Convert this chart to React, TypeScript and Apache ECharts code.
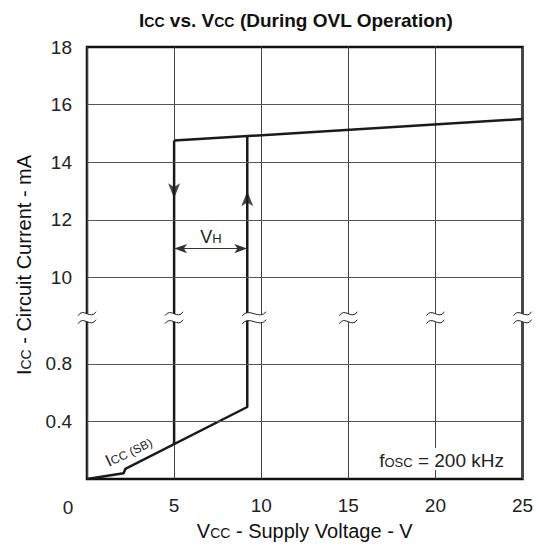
import React, { useEffect, useRef } from "react";
import * as echarts from "echarts";

// ---- data (real units: V and mA) ----
const xTicks = [0, 5, 10, 15, 20, 25];
const yTickValues = [0.4, 0.8, 10, 12, 14, 16, 18];
const hGridValues = [0.4, 0.8, 10, 12, 14, 16];

// standby current then turn-on at ~9.2 V
const riseV = [0, 2.1, 2.2, 9.2, 9.2];
const riseI = [0, 0.04, 0.07, 0.5, 14.91];
// operating current
const opV = [5, 25];
const opI = [14.75, 15.5];
// turn-off at 5 V
const fallV = [5, 5];
const fallI = [14.75, 0.24];

// arrow tips (direction markers on the hysteresis loop)
const arrowDown = [5, 12.75];
const arrowUp = [9.2, 12.99];
const vhLevel = 11;
const vhFrom = 5;
const vhTo = 9.2;

const breakXs = [0, 5, 9.6, 15, 20, 25];

// broken-axis scale: 0..0.8 mA (lower) and 10..18 mA (upper)
const toAxis = (i: number) => (i <= 2 ? i / 0.4 : 3.5 + (i - 10) / 2);
const BREAK_POS = 2.8;
const AXIS_MAX = toAxis(18);

const FONT = "'Liberation Sans', Arial, Helvetica, sans-serif";

const labelFor = (v: number) => {
  for (const t of yTickValues) {
    if (Math.abs(toAxis(t) - v) < 1e-6) return String(t);
  }
  return "";
};

const pts = (xs: number[], ys: number[]) => xs.map((x, k) => [x, toAxis(ys[k])]);

export default function App() {
  const ref = useRef<HTMLDivElement>(null);
  useEffect(() => {
    if (!ref.current) return;
    const chart = echarts.init(ref.current, undefined, { renderer: "svg" });
    const lineColor = "#1a1a1a";
    const option: any = {
      animation: false,
      backgroundColor: "#fff",
      textStyle: { fontFamily: FONT },
      grid: {
        left: 87,
        right: 16.5,
        top: 47,
        bottom: 65,
        show: true,
        borderColor: "#111",
        borderWidth: 2.5,
        backgroundColor: "transparent",
      },
      xAxis: {
        type: "value",
        min: 0,
        max: 25,
        interval: 5,
        axisLine: { show: false },
        axisTick: { show: false },
        splitLine: { show: true, lineStyle: { color: "#444", width: 1 } },
        axisLabel: {
          margin: 17,
          fontSize: 19,
          color: "#222",
          fontFamily: FONT,
          formatter: (v: number) => (v === 0 ? "" : String(v)),
        },
        name: "{a|V}{s|CC}{a| - Supply Voltage - V}",
        nameLocation: "middle",
        nameGap: 40,
        nameTextStyle: {
          rich: {
            a: { fontSize: 20, color: "#111", fontFamily: FONT, verticalAlign: "bottom", lineHeight: 22 },
            s: { fontSize: 14, color: "#111", fontFamily: FONT, verticalAlign: "bottom", lineHeight: 22, padding: [0, 0, 1, 0] },
          },
        },
      },
      yAxis: {
        type: "value",
        min: 0,
        max: AXIS_MAX,
        interval: 0.5,
        axisLine: { show: false },
        axisTick: { show: false },
        splitLine: { show: false },
        axisLabel: {
          margin: 15,
          fontSize: 19,
          color: "#222",
          fontFamily: FONT,
          formatter: (v: number) => labelFor(v),
        },
      },
      series: [
        {
          type: "line",
          data: [],
          silent: true,
          z: 1,
          markLine: {
            silent: true,
            symbol: "none",
            label: { show: false },
            lineStyle: { color: "#555", width: 1, type: "solid" },
            data: hGridValues.map((v) => ({ yAxis: toAxis(v) })),
          },
        },
        {
          type: "line",
          data: pts(riseV, riseI),
          symbol: "none",
          z: 3,
          lineStyle: { color: lineColor, width: 2.5 },
        },
        {
          type: "line",
          data: pts(opV, opI),
          symbol: "none",
          z: 3,
          lineStyle: { color: lineColor, width: 2.5 },
        },
        {
          type: "line",
          data: pts(fallV, fallI),
          symbol: "none",
          z: 3,
          lineStyle: { color: lineColor, width: 2.5 },
          markLine: {
            silent: true,
            symbol: ["arrow", "arrow"],
            symbolSize: [7, 13],
            label: { show: false },
            lineStyle: { color: "#333", width: 1, type: "solid" },
            data: [[{ coord: [vhFrom, toAxis(vhLevel)] }, { coord: [vhTo, toAxis(vhLevel)] }]],
          },
        },
        {
          type: "scatter",
          z: 4,
          symbol: "arrow",
          symbolSize: [9, 15],
          itemStyle: { color: lineColor },
          data: [
            { value: [arrowDown[0], toAxis(arrowDown[1])], symbolRotate: 180 },
            { value: [arrowUp[0], toAxis(arrowUp[1])], symbolRotate: 0 },
          ],
        },
        {
          type: "custom",
          z: 6,
          silent: true,
          data: breakXs.map((x) => [x, BREAK_POS]),
          renderItem: (params: any, api: any) => {
            const c = api.coord([api.value(0), api.value(1)]);
            const x0 = c[0];
            const y0 = c[1];
            const hw = Math.abs(api.value(0) - 9.6) < 1e-6 ? 12 : 9;
            const wave = (dy: number) =>
              `M ${x0 - hw} ${y0 + dy + 2} C ${x0 - hw * 0.4} ${y0 + dy - 7} ${x0 + hw * 0.4} ${y0 + dy + 7} ${x0 + hw} ${y0 + dy - 2}`;
            const top = -4;
            const bot = 4;
            const fill =
              `M ${x0 - hw} ${y0 + top + 2} C ${x0 - hw * 0.4} ${y0 + top - 7} ${x0 + hw * 0.4} ${y0 + top + 7} ${x0 + hw} ${y0 + top - 2} ` +
              `L ${x0 + hw} ${y0 + bot - 2} C ${x0 + hw * 0.4} ${y0 + bot + 7} ${x0 - hw * 0.4} ${y0 + bot - 7} ${x0 - hw} ${y0 + bot + 2} Z`;
            return {
              type: "group",
              children: [
                { type: "path", shape: { pathData: fill }, style: { fill: "#fff", stroke: null } },
                { type: "path", shape: { pathData: wave(top) }, style: { fill: null, stroke: "#222", lineWidth: 1 } },
                { type: "path", shape: { pathData: wave(bot) }, style: { fill: null, stroke: "#222", lineWidth: 1 } },
              ],
            };
          },
        },
      ],
      graphic: [
        {
          type: "text",
          x: 296,
          y: 19,
          style: {
            text: "{b|I}{s|CC}{b| vs. V}{s|CC}{b| (During OVL Operation)}",
            align: "center",
            verticalAlign: "middle",
            rich: {
              b: { fontSize: 19, fontWeight: "bold", fill: "#111", fontFamily: FONT, verticalAlign: "bottom", lineHeight: 22 },
              s: { fontSize: 14, fontWeight: "bold", fill: "#111", fontFamily: FONT, verticalAlign: "bottom", lineHeight: 22, padding: [0, 0, 1, 0] },
            },
          },
        },
        {
          type: "text",
          x: 23,
          y: 265,
          rotation: Math.PI / 2,
          style: {
            text: "{a|I}{s|CC}{a| - Circuit Current - mA}",
            align: "center",
            verticalAlign: "middle",
            rich: {
              a: { fontSize: 20, fill: "#111", fontFamily: FONT, verticalAlign: "bottom", lineHeight: 22 },
              s: { fontSize: 14, fill: "#111", fontFamily: FONT, verticalAlign: "bottom", lineHeight: 22, padding: [0, 0, 1, 0] },
            },
          },
        },
        {
          type: "text",
          x: 68,
          y: 507,
          style: { text: "0", fontSize: 19, fill: "#222", fontFamily: FONT, align: "center", verticalAlign: "middle" },
        },
        {
          type: "text",
          x: 211,
          y: 235,
          z: 10,
          style: {
            text: "{a|V}{s|H}",
            align: "center",
            verticalAlign: "middle",
            rich: {
              a: { fontSize: 18, fill: "#222", fontFamily: FONT, verticalAlign: "bottom", lineHeight: 21 },
              s: { fontSize: 13, fill: "#222", fontFamily: FONT, verticalAlign: "bottom", lineHeight: 21, padding: [0, 0, 1, 0] },
            },
          },
        },
        {
          type: "text",
          x: 128,
          y: 450,
          rotation: 0.45,
          z: 10,
          style: {
            text: "{a|I}{s|CC (SB)}",
            align: "center",
            verticalAlign: "middle",
            rich: {
              a: { fontSize: 17, fill: "#222", fontFamily: FONT, verticalAlign: "bottom", lineHeight: 20 },
              s: { fontSize: 12, fill: "#222", fontFamily: FONT, verticalAlign: "bottom", lineHeight: 20, padding: [0, 0, 1, 0] },
            },
          },
        },
        {
          type: "text",
          x: 506,
          y: 459,
          z: 10,
          style: {
            text: "{a|f}{s|OSC}{a| = 200 kHz}",
            align: "right",
            verticalAlign: "middle",
            backgroundColor: "#fff",
            padding: [0, 2, 0, 2],
            rich: {
              a: { fontSize: 19, fill: "#222", fontFamily: FONT, verticalAlign: "bottom", lineHeight: 22 },
              s: { fontSize: 13, fill: "#222", fontFamily: FONT, verticalAlign: "bottom", lineHeight: 22, padding: [0, 0, 1, 0] },
            },
          },
        },
      ],
    };
    chart.setOption(option);
    return () => chart.dispose();
  }, []);
  return <div ref={ref} style={{ position: "absolute", left: 0, top: 0, width: 539, height: 546 }} />;
}
